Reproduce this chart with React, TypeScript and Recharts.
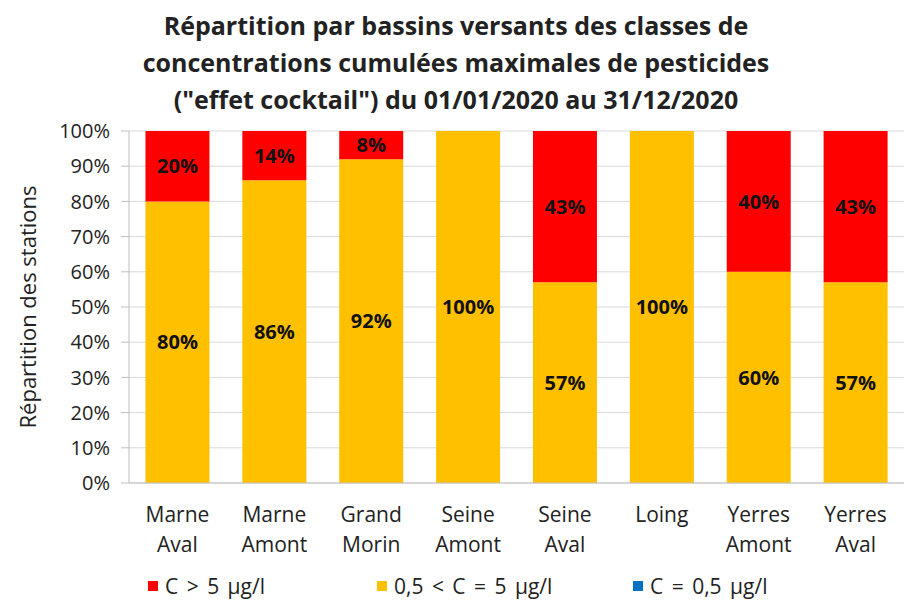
import React from 'react';
import { BarChart, Bar, XAxis, YAxis, CartesianGrid, LabelList } from 'recharts';

const bassins = ['Marne\nAval', 'Marne\nAmont', 'Grand\nMorin', 'Seine\nAmont', 'Seine\nAval', 'Loing', 'Yerres\nAmont', 'Yerres\nAval'];
const superieur5 = [20, 14, 8, 0, 43, 0, 40, 43];
const entre05et5 = [80, 86, 92, 100, 57, 100, 60, 57];
const inferieur05 = [0, 0, 0, 0, 0, 0, 0, 0];
const yTicks = [0, 10, 20, 30, 40, 50, 60, 70, 80, 90, 100];

const RED = '#ff0000';
const YELLOW = '#ffc000';
const BLUE = '#0070c0';
const FONT = '"Open Sans", sans-serif';

const data = bassins.map((name, i) => ({
  name,
  low: inferieur05[i],
  mid: entre05et5[i],
  high: superieur5[i],
}));

const CategoryTick = (props: any) => {
  const { x, y, payload } = props;
  const lines = String(payload.value).split('\n');
  return (
    <text x={x} y={y + 31} textAnchor="middle" fill="#222" fontSize={21} fontFamily={FONT}>
      {lines.map((l, i) => (
        <tspan key={i} x={x} dy={i === 0 ? 0 : 30}>{l}</tspan>
      ))}
    </text>
  );
};

const pct = (v: any) => (v ? `${v}%` : '');

const legendItems = [
  { label: 'C > 5 µg/l', color: RED, left: 148 },
  { label: '0,5 < C = 5 µg/l', color: YELLOW, left: 377 },
  { label: 'C = 0,5 µg/l', color: BLUE, left: 633 },
];

const labelStyle = { fill: '#111', fontWeight: 'bold', fontSize: 20, fontFamily: FONT };

export default function App() {
  return (
    <div style={{ position: 'relative', width: 912, height: 601, background: '#fff', fontFamily: FONT }}>
      <style>{'body{margin:0}'}</style>
      <div style={{ position: 'absolute', top: 7, left: 0, width: 912, textAlign: 'center', fontWeight: 'bold', fontSize: 25, lineHeight: '37px', color: '#222' }}>
        Répartition par bassins versants des classes de<br />
        concentrations cumulées maximales de pesticides<br />
        ("effet cocktail") du 01/01/2020 au 31/12/2020
      </div>
      <BarChart
        width={912}
        height={601}
        data={data}
        margin={{ top: 131, right: 8, bottom: 0, left: 0 }}
        barCategoryGap="17%"
      >
        <CartesianGrid vertical={false} stroke="#d9d9d9" />
        <YAxis
          domain={[0, 100]}
          ticks={yTicks}
          tickFormatter={(v) => `${v}%`}
          width={129}
          axisLine={{ stroke: '#bfbfbf' }}
          tickLine={{ stroke: '#bfbfbf' }}
          tickSize={8}
          tickMargin={11}
          tick={{ fill: '#222', fontSize: 20, fontFamily: FONT }}
          label={{ value: 'Répartition des stations', angle: -90, position: 'insideLeft', offset: 28, style: { textAnchor: 'middle', fill: '#222', fontSize: 22, fontFamily: FONT } }}
        />
        <XAxis
          dataKey="name"
          interval={0}
          height={118}
          axisLine={{ stroke: '#bfbfbf' }}
          tickLine={false}
          tick={<CategoryTick />}
        />
        <Bar dataKey="low" stackId="s" fill={BLUE} isAnimationActive={false} />
        <Bar dataKey="mid" stackId="s" fill={YELLOW} isAnimationActive={false}>
          <LabelList dataKey="mid" position="center" formatter={pct} style={labelStyle} />
        </Bar>
        <Bar dataKey="high" stackId="s" fill={RED} isAnimationActive={false}>
          <LabelList dataKey="high" position="center" formatter={pct} style={labelStyle} />
        </Bar>
      </BarChart>
      <div style={{ position: 'absolute', top: 572, left: 0, width: 912, height: 26 }}>
        {legendItems.map((it) => (
          <div key={it.label} style={{ position: 'absolute', left: it.left, top: 0, display: 'flex', alignItems: 'center', fontSize: 21, color: '#222', wordSpacing: 3 }}>
            <span style={{ display: 'inline-block', width: 10, height: 10, background: it.color, marginRight: 7 }} />
            {it.label}
          </div>
        ))}
      </div>
    </div>
  );
}
